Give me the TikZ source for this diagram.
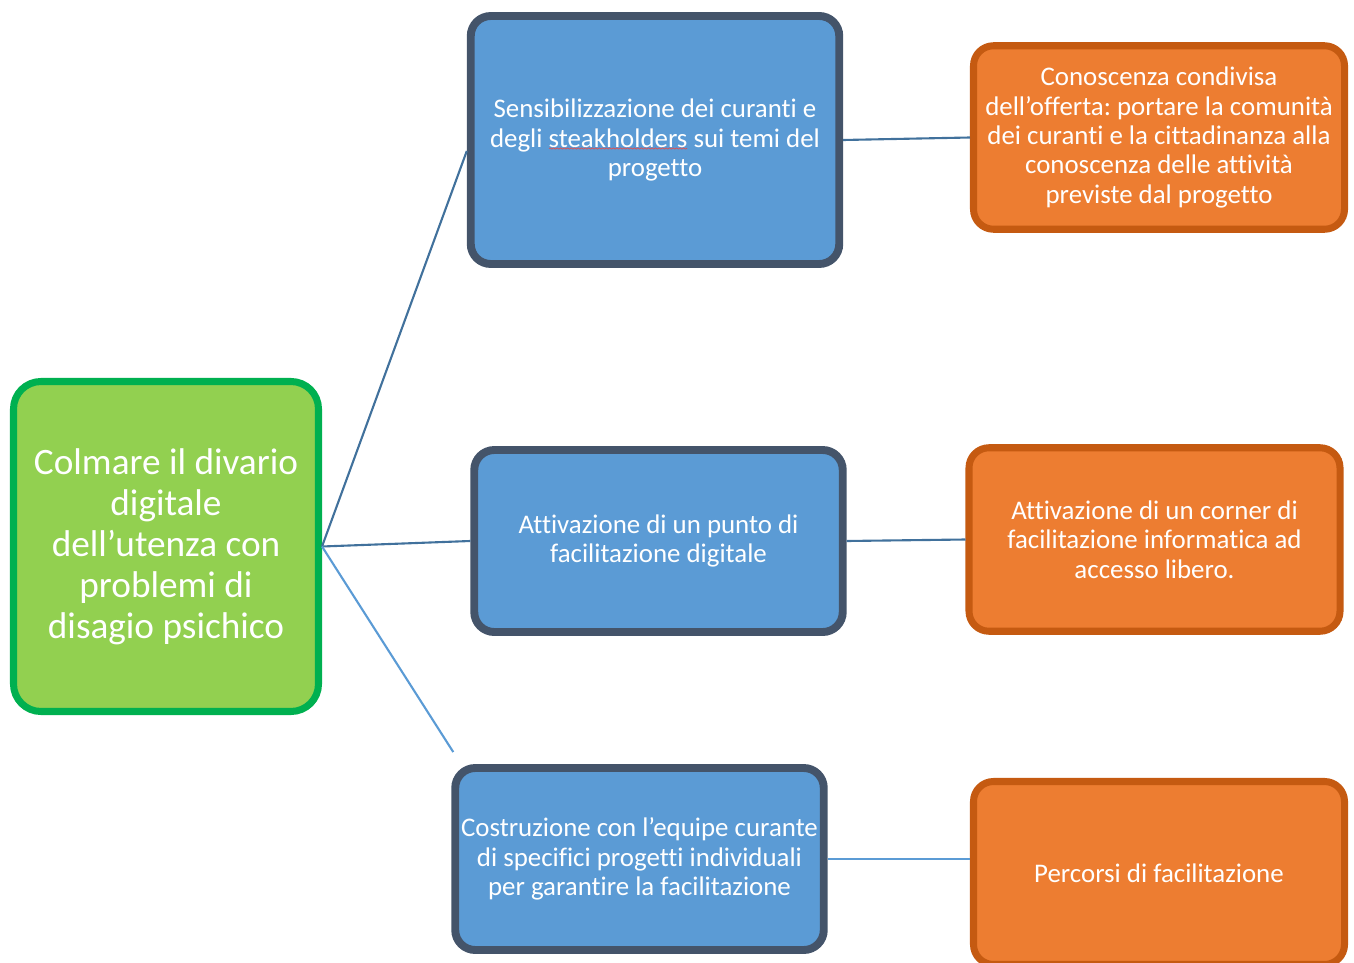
\documentclass[tikz,border=0pt]{standalone}
\usepackage{fontspec}
\setmainfont{Carlito}[Ligatures=NoCommon]
\frenchspacing
\usepackage{tikz}
\usetikzlibrary{calc, decorations.pathmorphing}
\definecolor{goalgreen}     {RGB}{146, 208,  80}
\definecolor{goaledge}      {RGB}{  0, 176,  80}
\definecolor{actblue}       {RGB}{ 91, 155, 213}
\definecolor{actedge}       {RGB}{ 68,  84, 106}
\definecolor{resorange}     {RGB}{237, 125,  49}
\definecolor{resedge}       {RGB}{197,  90,  17}
\definecolor{linkdark}      {RGB}{ 65, 113, 156}
\definecolor{spellred}      {RGB}{224,  80,  80}

\begin{document}
\begin{tikzpicture}[
		goalbox/.style={draw=goaledge, fill=goalgreen, line width=4pt, rounded corners=0.55cm,
			minimum width=6.1cm, minimum height=6.6cm, align=center, text=white,
			font=\fontsize{21.2}{23.3}\selectfont\frenchspacing},
		actbox/.style={draw=actedge, fill=actblue, line width=4.5pt, rounded corners=0.4cm,
			minimum width=7.37cm, align=center, text=white, font=\fontsize{15.3}{16.75}\selectfont\frenchspacing},
		resbox/.style={draw=resedge, fill=resorange, line width=4pt, rounded corners=0.4cm,
			minimum width=7.42cm, minimum height=3.67cm, align=center, text=white,
			font=\fontsize{15.3}{16.75}\selectfont\frenchspacing},
		link/.style={line width=1.2pt, linkdark},
		linklight/.style={line width=1.2pt, actblue}
	]
				\useasboundingbox (0,0) rectangle (27.08,-19.26);
				\node[goalbox] (goal) at (3.32,-10.93) {Colmare il divario\\digitale\\dell’utenza con\\problemi di\\disagio psichico};
				\node[actbox, minimum height=4.96cm] (aware) at (13.10,-2.80) {Sensibilizzazione dei curanti e\\degli steakholders sui temi del\\progetto};
				\node[actbox, minimum height=3.64cm] (point) at (13.17,-10.82) {Attivazione di un punto di\\facilitazione digitale};
				\node[actbox, minimum height=3.64cm] (build) at (12.79,-17.18) {Costruzione con l’equipe curante\\di specifici progetti individuali\\per garantire la facilitazione};
				\node[resbox] (share) at (23.18,-2.75) {Conoscenza condivisa\\dell’offerta: portare la comunità\\dei curanti e la cittadinanza alla\\conoscenza delle attività\\previste dal progetto};
				\node[resbox] (corner) at (23.09,-10.79) {Attivazione di un corner di\\facilitazione informatica ad\\accesso libero.};
				\node[resbox, minimum height=3.66cm] (paths) at (23.18,-17.46) {Percorsi di facilitazione};
				\coordinate (buildend) at ($(build.north west)+(0.04,0.24)$);
				\draw[link] (goal.east) -- ($(aware.west)+(0,-0.22)$);
				\draw[link] (goal.east) -- (point.west);
				\draw[linklight] (goal.east) -- (buildend);
				\draw[link] (aware.east) -- (share.west);
				\draw[link] (point.east) -- (corner.west);
				\draw[linklight] (build.east) -- (build.east -| paths.west);
				\draw[spellred, line width=0.4pt, decorate, decoration={snake, amplitude=0.35pt, segment length=2pt}]
					($(aware.center)+(-2.12,-0.17)$) -- ($(aware.center)+(0.64,-0.17)$);
			\end{tikzpicture}
\end{document}
